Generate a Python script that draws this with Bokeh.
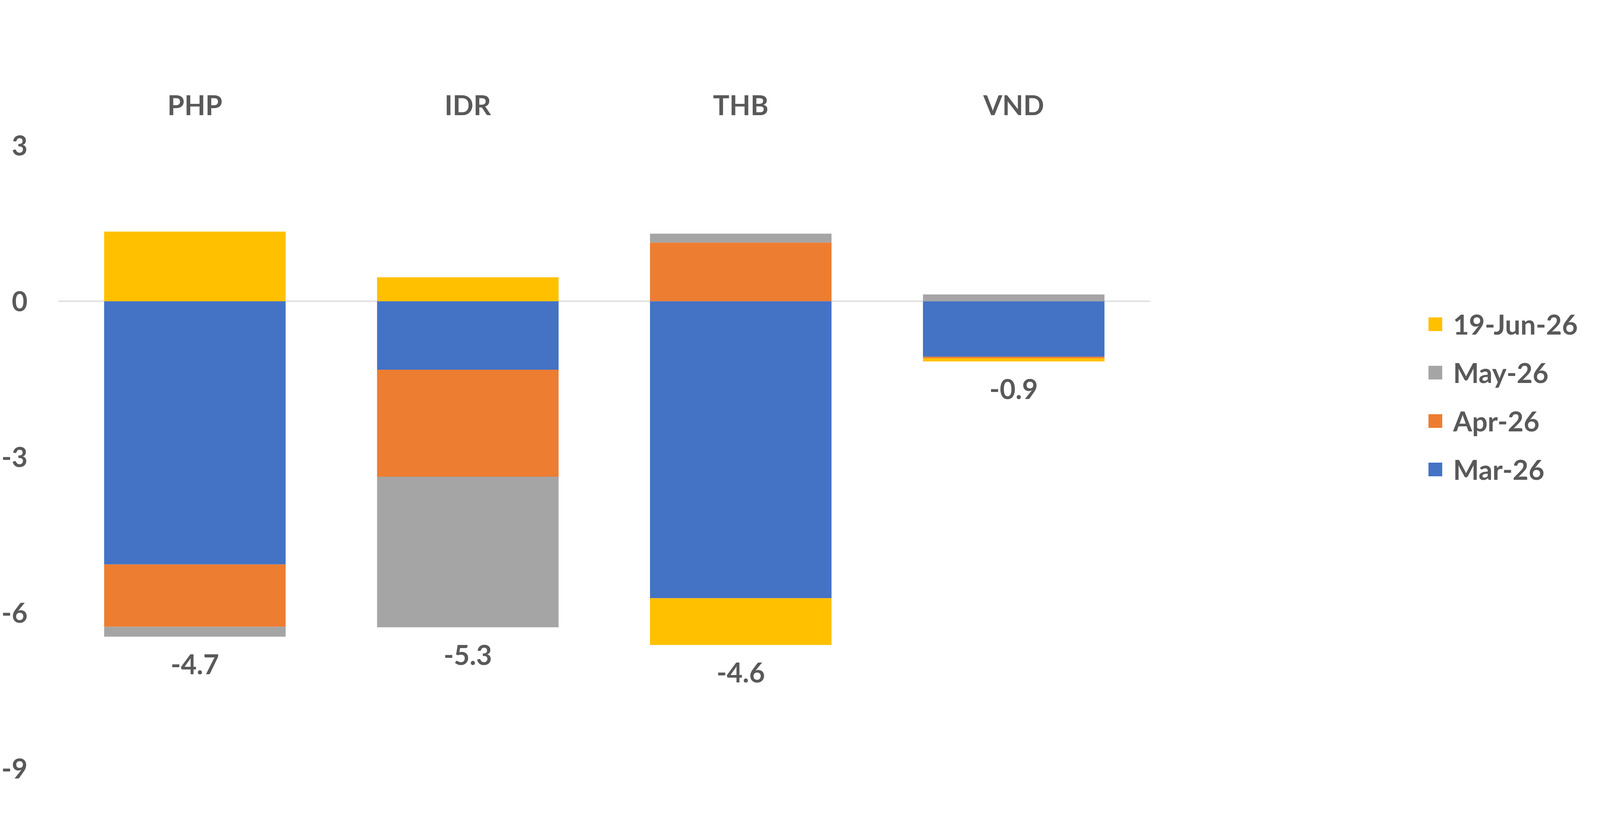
import numpy as np
from bokeh.core.properties import value
from bokeh.embed import file_html
from bokeh.models import ColumnDataSource, FixedTicker, Legend, LegendItem, Range1d
from bokeh.plotting import figure
from bokeh.resources import INLINE

currencies = ['PHP', 'IDR', 'THB', 'VND']
series = ['Mar-26', 'Apr-26', 'May-26', '19-Jun-26']
mar = [-5.07, -1.32, -5.72, -1.07]
apr = [-1.20, -2.06, 1.13, -0.03]
may = [-0.19, -2.90, 0.17, 0.13]
jun = [1.34, 0.46, -0.90, -0.06]
totals = ['-4.7', '-5.3', '-4.6', '-0.9']
colors = ['#4472C4', '#ED7D31', '#A5A5A5', '#FFC000']
y_ticks = [3, 0, -3, -6, -9]

FONT = value("Lato")
TXT = '#595959'
SIZE = '70px'

x = np.arange(len(currencies))
p = figure(width=4085, height=2014, output_backend="svg", toolbar_location=None,
           x_range=Range1d(-0.5, 5.133), y_range=Range1d(-9, 3),
           x_axis_location="above")
p.min_border_left = 140
p.min_border_top = 372
p.min_border_bottom = 46
p.min_border_right = 0
p.outline_line_color = None
p.grid.visible = False

# zero line across the category area
p.segment(x0=[-0.5], y0=[0], x1=[3.5], y1=[0], line_color='#D9D9D9', line_width=3)

# stack positives up and negatives down, separately
pos_base = np.zeros(len(currencies))
neg_base = np.zeros(len(currencies))
renderers = {}
for name, vals, color in zip(series, [mar, apr, may, jun], colors):
    v = np.array(vals)
    bottom = np.where(v >= 0, pos_base, neg_base)
    top = bottom + v
    pos_base = np.where(v >= 0, top, pos_base)
    neg_base = np.where(v < 0, top, neg_base)
    src = ColumnDataSource(dict(x=x, top=top, bottom=bottom))
    renderers[name] = p.vbar(x='x', top='top', bottom='bottom', width=0.665,
                             source=src, fill_color=color, line_color=None)

# total labels under each bar
lab = ColumnDataSource(dict(x=x, y=neg_base, text=totals))
p.text(x='x', y='y', text='text', source=lab, y_offset=71,
       text_font=FONT, text_font_style='bold', text_font_size=SIZE,
       text_color=TXT, text_align='center', text_baseline='middle')

xa = p.xaxis[0]
xa.ticker = FixedTicker(ticks=list(x))
xa.major_label_overrides = {int(i): c for i, c in zip(x, currencies)}
ya = p.yaxis[0]
ya.ticker = FixedTicker(ticks=y_ticks)
ya.major_label_overrides = {t: str(t) for t in y_ticks}
ya.major_label_standoff = 73
xa.major_label_standoff = 57
for ax in (xa, ya):
    ax.axis_line_color = None
    ax.major_tick_line_color = None
    ax.minor_tick_line_color = None
    ax.major_label_text_font = 'Lato'
    ax.major_label_text_font_style = 'bold'
    ax.major_label_text_font_size = SIZE
    ax.major_label_text_color = TXT

items = [LegendItem(label=s, renderers=[renderers[s]]) for s in reversed(series)]
legend = Legend(items=items, location=(3503, 718),
                glyph_width=44, glyph_height=44, label_height=97,
                spacing=27, label_standoff=24, padding=10,
                label_text_font='Lato', label_text_font_style='bold',
                label_text_font_size=SIZE, label_text_color=TXT,
                border_line_color=None, background_fill_alpha=0)
p.add_layout(legend, 'center')

open("out.html", "w").write(file_html(p, INLINE))
